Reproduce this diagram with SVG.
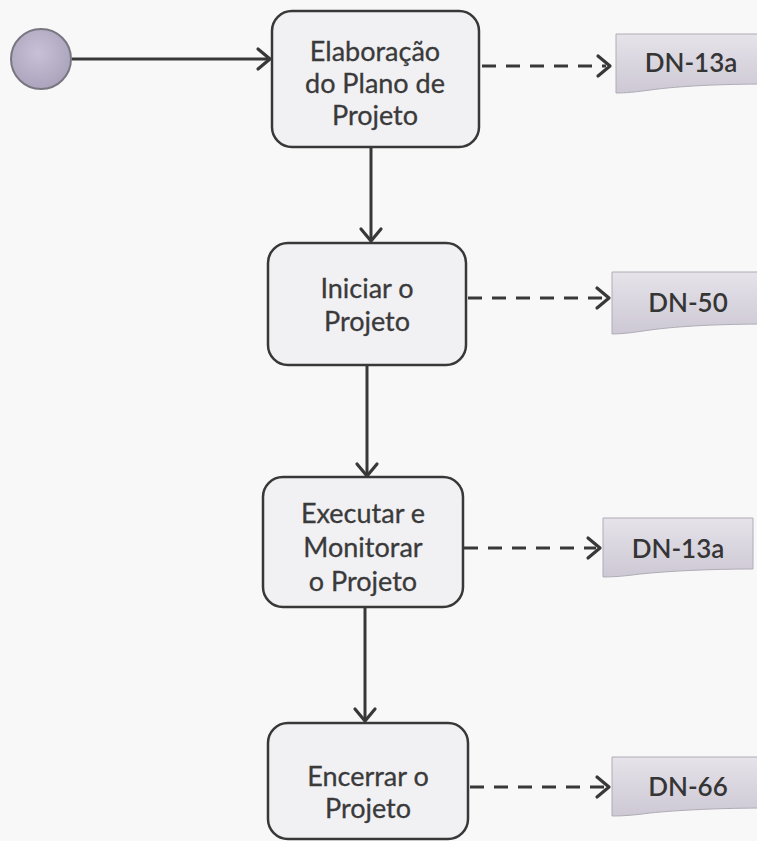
<svg xmlns="http://www.w3.org/2000/svg" width="757" height="841" viewBox="0 0 757 841">
  <defs>
    <style>
      .box { fill: #f1f0f3; stroke: #383838; stroke-width: 2.5; }
      .lbl { font-family: Lato, "Liberation Sans", sans-serif; font-size: 27px; fill: #3a3a3a; text-anchor: middle; stroke: #3a3a3a; stroke-width: 0.3; }
      .doc { fill: url(#docg); stroke: #b0acb6; stroke-width: 1; }
      .dlbl { font-family: Lato, "Liberation Sans", sans-serif; font-size: 26px; font-weight: 600; fill: #353535; text-anchor: middle; }
      .flow { fill: none; stroke: #383838; stroke-width: 3; }
      .dash { fill: none; stroke: #383838; stroke-width: 3.2; stroke-dasharray: 14 10; }
      .head { fill: none; stroke: #383838; stroke-width: 3.2; stroke-linecap: round; stroke-linejoin: round; }
    </style>
    <linearGradient id="docg" x1="0" y1="0" x2="0" y2="1">
      <stop offset="0" stop-color="#e6e3ea"/>
      <stop offset="1" stop-color="#cdc8d4"/>
    </linearGradient>
    <radialGradient id="startg" cx="0.45" cy="0.4" r="0.6">
      <stop offset="0" stop-color="#c8c0d6"/>
      <stop offset="1" stop-color="#aca4bc"/>
    </radialGradient>
  </defs>
  <rect x="0" y="0" width="757" height="841" fill="#f8f8f8"/>

  <g id="connectors">
    <path class="flow" d="M72 59 H270"/>
    <path class="head" d="M258 49 L270 59 L258 69"/>
    <path class="dash" d="M482 66 H606"/>
    <path class="head" d="M598 56 L610 66 L598 76"/>

    <path class="flow" d="M371 147 V241"/>
    <path class="head" d="M361 229 L371 241 L381 229"/>
    <path class="dash" d="M468 298 H605"/>
    <path class="head" d="M597 288 L609 298 L597 308"/>

    <path class="flow" d="M367 365 V476"/>
    <path class="head" d="M357 464 L367 476 L377 464"/>
    <path class="dash" d="M464 548 H596"/>
    <path class="head" d="M588 538 L600 548 L588 558"/>

    <path class="flow" d="M365 607 V721"/>
    <path class="head" d="M355 709 L365 721 L375 709"/>
    <path class="dash" d="M470 787 H605"/>
    <path class="head" d="M597 777 L609 787 L597 797"/>
  </g>

  <g id="start">
    <circle cx="41" cy="59" r="30" fill="url(#startg)" stroke="#7a7680" stroke-width="2"/>
  </g>

  <g id="n1">
    <rect class="box" x="272" y="11" width="207" height="136" rx="20"/>
    <text class="lbl" x="375" y="61">Elaboração</text>
    <text class="lbl" x="375" y="93">do Plano de</text>
    <text class="lbl" x="375" y="125">Projeto</text>
  </g>
  <g id="n2">
    <rect class="box" x="268" y="243" width="198" height="122" rx="20"/>
    <text class="lbl" x="367" y="298">Iniciar o</text>
    <text class="lbl" x="367" y="331">Projeto</text>
  </g>
  <g id="n3">
    <rect class="box" x="263" y="477" width="200" height="130" rx="20"/>
    <text class="lbl" x="363" y="523">Executar e</text>
    <text class="lbl" x="363" y="557">Monitorar</text>
    <text class="lbl" x="363" y="591">o Projeto</text>
  </g>
  <g id="n4">
    <rect class="box" x="268" y="723" width="200" height="116" rx="20"/>
    <text class="lbl" x="368" y="786">Encerrar o</text>
    <text class="lbl" x="368" y="818">Projeto</text>
  </g>

  <g id="d1">
    <path class="doc" d="M616 34 H770 V84 C720 84 680 86 650 90 C636 92 626 93 616 93 Z"/>
    <text class="dlbl" x="691" y="72">DN-13a</text>
  </g>
  <g id="d2">
    <path class="doc" d="M612 272 H770 V324 C720 324 680 326 650 330 C636 332 624 334 612 334 Z"/>
    <text class="dlbl" x="688" y="312">DN-50</text>
  </g>
  <g id="d3">
    <path class="doc" d="M603 518 H753 V569 C710 569 670 571 640 574 C626 576 614 577 603 577 Z"/>
    <text class="dlbl" x="678" y="558">DN-13a</text>
  </g>
  <g id="d4">
    <path class="doc" d="M612 757 H770 V808 C720 808 680 810 650 813 C636 815 624 816 612 816 Z"/>
    <text class="dlbl" x="688" y="796">DN-66</text>
  </g>
</svg>
